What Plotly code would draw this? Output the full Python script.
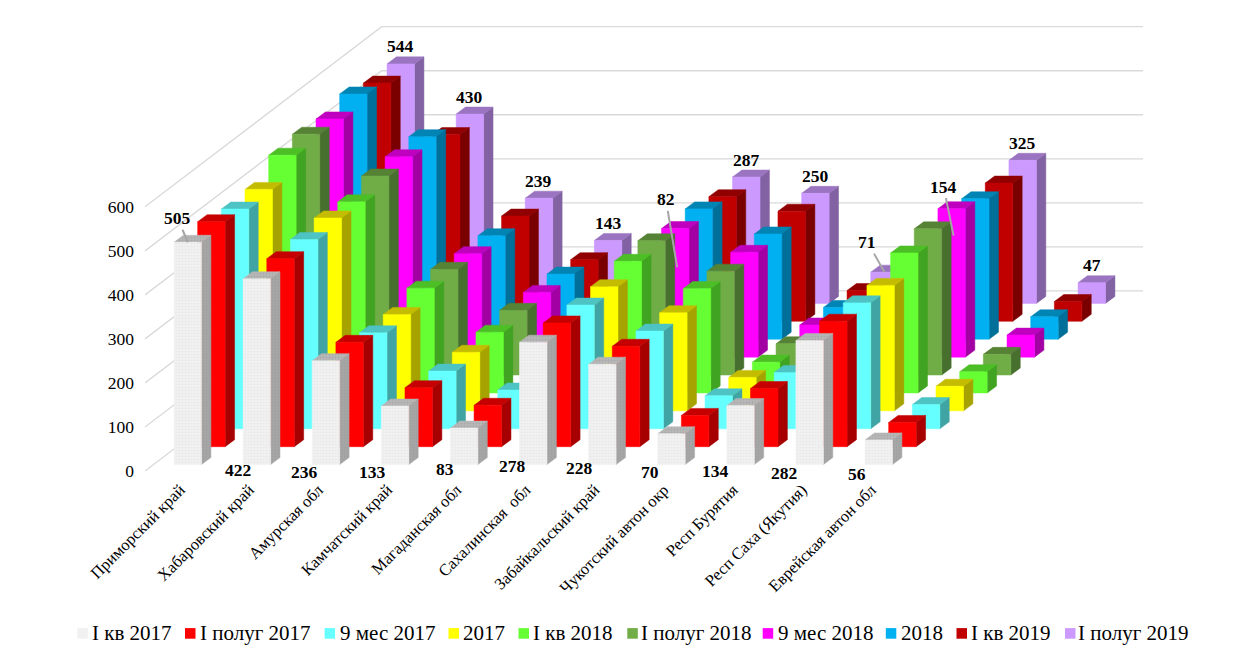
import plotly.graph_objects as go

categories = ["Приморский край", "Хабаровский край", "Амурская обл", "Камчатский край",
              "Магаданская обл", "Сахалинская  обл", "Забайкальский край",
              "Чукотский автон окр", "Респ Бурятия", "Респ Саха (Якутия)", "Еврейская автон обл"]
series_names = ["I кв 2017", "I полуг 2017", "9 мес 2017", "2017", "I кв 2018",
                "I полуг 2018", "9 мес 2018", "2018", "I кв 2019", "I полуг 2019"]

q1_2017 = [505, 422, 236, 133, 83, 278, 228, 70, 134, 282, 56]
h1_2017 = [511, 427, 237, 134, 94, 281, 228, 71, 132, 285, 55]
m9_2017 = [499, 430, 218, 131, 88, 281, 222, 75, 128, 286, 55]
y_2017 = [503, 438, 219, 133, 90, 282, 223, 76, 130, 285, 56]
q1_2018 = [540, 434, 238, 138, 92, 299, 237, 70, 135, 318, 48]
h1_2018 = [547, 452, 240, 147, 95, 305, 236, 71, 140, 332, 47]
m9_2018 = [541, 455, 235, 147, 95, 292, 238, 73, 145, 337, 50]
y_2018 = [557, 460, 235, 148, 90, 296, 239, 72, 150, 319, 51]
q1_2019 = [541, 424, 239, 140, 85, 283, 250, 70, 150, 314, 45]
h1_2019 = [544, 430, 239, 143, 82, 287, 250, 71, 154, 325, 47]
all_series = [q1_2017, h1_2017, m9_2017, y_2017, q1_2018, h1_2018, m9_2018, y_2018, q1_2019, h1_2019]

front_colors = ["#F1F1F1", "#FF0000", "#66FFFF", "#FFFF00", "#66FF33",
                "#70AD47", "#FF00FF", "#00B0F0", "#C00000", "#CC99FF"]
top_colors = ["#B8B8B8", "#C60000", "#4DC3C3", "#C4BC00", "#4CBF26",
              "#558235", "#BF00BF", "#0084B4", "#900000", "#9A74C0"]
side_colors = ["#A6A6A6", "#A60000", "#40A4A4", "#A6A300", "#40A321",
               "#476F2D", "#A300A3", "#006F99", "#7A0000", "#8262A3"]
y_ticks = [0, 100, 200, 300, 400, 500, 600]

# oblique projection (in axis units)
PX_CAT, PX_VAL = 69.1, 0.44
W = 27.5 / PX_CAT
DEPTH_X, DEPTH_Y = 9.4 / PX_CAT, 7.0 / PX_VAL
STEP_X, STEP_Y = 23.67 / PX_CAT, 17.9 / PX_VAL
BASE_Y = 6.4 / PX_VAL
WALL_X0 = (145 - 187.75) / PX_CAT
WALL_DX, WALL_DY = 236.7 / PX_CAT, 180 / PX_VAL
WALL_RIGHT = (1143 - 187.75) / PX_CAT
FONT = "Liberation Serif"
PAGE = 8                 # body margin of the page
L, FLOOR = 145, 470.7    # page pixels of the plot area's left and bottom edges


def pos(c, s, v):
    return c + s * STEP_X, v + BASE_Y + s * STEP_Y


def poly(points):
    xs, ys = [], []
    for group in points:
        xs += [p[0] for p in group] + [group[0][0], None]
        ys += [p[1] for p in group] + [group[0][1], None]
    return xs, ys


fig = go.Figure()

# walls
gx, gy = [], []
for v in y_ticks:
    gx += [WALL_X0, WALL_X0 + WALL_DX, WALL_RIGHT, None]
    gy += [v, v + WALL_DY, v + WALL_DY, None]
fig.add_trace(go.Scatter(x=gx, y=gy, mode="lines", line=dict(color="#D9D9D9", width=1.3),
                         hoverinfo="skip", showlegend=False))

# bars, back row first
for s in range(9, -1, -1):
    vals = all_series[s]
    fronts, sides, tops = [], [], []
    for c, v in enumerate(vals):
        x, y = pos(c, s, v)
        xl, xr = x - W / 2, x + W / 2
        y0 = y - v
        fronts.append([(xl, y0), (xr, y0), (xr, y), (xl, y)])
        sides.append([(xr, y0), (xr + DEPTH_X, y0 + DEPTH_Y), (xr + DEPTH_X, y + DEPTH_Y), (xr, y)])
        tops.append([(xl, y), (xr, y), (xr + DEPTH_X, y + DEPTH_Y), (xl + DEPTH_X, y + DEPTH_Y)])
    for group, col, nm in ((sides, side_colors[s], "side"), (tops, top_colors[s], "top"),
                           (fronts, front_colors[s], "front")):
        xs, ys = poly(group)
        kw = {}
        if s == 0:
            kw["fillpattern"] = dict(shape=".", fgcolor="#E2E2E2" if nm == "front" else "#9A9A9A",
                                     bgcolor=col, size=3, solidity=0.4)
        fig.add_trace(go.Scatter(x=xs, y=ys, mode="lines", fill="toself", fillcolor=col,
                                 line=dict(color=col, width=0.5),
                                 name=series_names[s], hoverinfo="name", showlegend=False, **kw))

label_font = dict(family=FONT, size=17.5, color="black")
ann = []

# labels of the back row on top of their bars
leaders = {4: (-11.3, -68), 7: (-17, -30), 8: (-10, -49)}
for c, v in enumerate(h1_2019):
    x, y = pos(c, 9, v)
    text = "<b>%d</b>" % v
    if c in leaders:
        ax, ay = leaders[c]
        ann.append(dict(x=x, y=y, xref="x", yref="y", text=text, showarrow=True, arrowhead=0,
                        arrowwidth=2, arrowcolor="#A6A6A6", ax=ax, ay=ay, font=label_font))
    else:
        ann.append(dict(x=x, y=y, xref="x", yref="y", text=text, showarrow=False,
                        yshift=17.5, font=label_font))

# labels of the front row under the bars
front_dx = [0, -19, -21, -22.8, -19.5, -21, -23, -21.5, -25, -25.7, -22]
front_dy = [0, -5, -7.4, -7.7, -4.7, -1.4, -3.4, -7.4, -6.4, -8.4, -9]
for c, v in enumerate(q1_2017):
    x, y = pos(c, 0, v)
    text = "<b>%d</b>" % v
    if c == 0:
        ann.append(dict(x=x, y=y, xref="x", yref="y", text=text, showarrow=True, arrowhead=0,
                        arrowwidth=2, arrowcolor="#A6A6A6", ax=-10, ay=-24, font=label_font))
    else:
        ann.append(dict(x=x, y=y - v, xref="x", yref="y", text=text, showarrow=False,
                        xshift=front_dx[c], yshift=front_dy[c], font=label_font))

# legend row
paper_w, paper_h = 1257 - L, FLOOR - PAGE
marker_px = [77.3, 185, 324.6, 448.5, 518.5, 627.3, 762.7, 885.8, 956.5, 1065]
text_px = [92.7, 200.4, 340, 463, 533, 641.5, 778, 901, 971, 1078.8]
shapes = []
for s, name in enumerate(series_names):
    shapes.append(dict(type="rect", xref="paper", yref="paper",
                       x0=(marker_px[s] - L) / paper_w, x1=(marker_px[s] + 10.5 - L) / paper_w,
                       y0=(FLOOR - 638.3) / paper_h, y1=(FLOOR - 627.7) / paper_h,
                       fillcolor=front_colors[s], line=dict(width=0)))
    ann.append(dict(x=(text_px[s] - L) / paper_w, y=(FLOOR - 633) / paper_h, xref="paper", yref="paper",
                    text=name, showarrow=False, xanchor="left", yanchor="middle", xshift=-2.5,
                    font=dict(family=FONT, size=21, color="black")))

fig.update_layout(
    width=1257 - PAGE, height=663 - PAGE, autosize=False,
    margin=dict(l=L - PAGE, r=0, t=0, b=663 - FLOOR),
    paper_bgcolor="white", plot_bgcolor="white", showlegend=False,
    annotations=ann, shapes=shapes,
    xaxis=dict(range=[WALL_X0, (1257 - 187.75) / PX_CAT], showgrid=False, zeroline=False, showline=False,
               tickmode="array", tickvals=[c - 0.11 for c in range(len(categories))],
               ticktext=categories, tickangle=-45, ticks="", ticklabelstandoff=5,
               tickfont=dict(family=FONT, size=16.5, color="black")),
    yaxis=dict(range=[0, (FLOOR - PAGE) / PX_VAL], showgrid=False, zeroline=False, showline=False,
               tickmode="array", tickvals=y_ticks, ticks="", ticklabelstandoff=10,
               tickfont=dict(family=FONT, size=17.5, color="black")),
)
fig.write_html("out.html")
